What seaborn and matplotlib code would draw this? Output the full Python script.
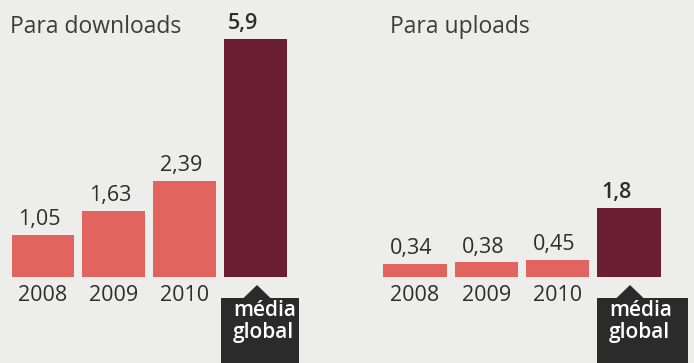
import matplotlib
matplotlib.use("Agg")
import matplotlib.pyplot as plt
import seaborn as sns
import pandas as pd
from matplotlib.patches import Rectangle, Polygon

# ---- data ----
categories = ["2008", "2009", "2010", "média global"]
downloads = [1.05, 1.63, 2.39, 5.9]
uploads = [0.34, 0.38, 0.45, 1.8]
download_labels = ["1,05", "1,63", "2,39", "5,9"]
upload_labels = ["0,34", "0,38", "0,45", "1,8"]
titles = ["Para downloads", "Para uploads"]

LIGHT = "#E1645E"
DARK = "#6B1D31"
BG = "#EDEDEB"
TXT = "#2E2E2E"
BOX = "#2B2B2B"

sns.set_theme(style="white")
plt.rcParams["font.family"] = ["Open Sans", "DejaVu Sans"]

W, H = 694, 363
fig = plt.figure(figsize=(W / 100, H / 100), dpi=100)
fig.patch.set_facecolor(BG)

panels = [
    dict(vals=downloads, labels=download_labels, title=titles[0],
         left=7.7, width=282.7, ymax=277 / 40.3, title_x=10,
         box=(221, 299), tri_x=257),
    dict(vals=uploads, labels=upload_labels, title=titles[1],
         left=379.4, width=285.2, ymax=277 / 38.3, title_x=390,
         box=(597, 688), tri_x=630),
]

base_px = 277  # baseline from top
for p in panels:
    ax = fig.add_axes([p["left"] / W, (H - base_px) / H, p["width"] / W, base_px / H])
    ax.set_facecolor("none")
    df = pd.DataFrame({"cat": categories, "val": p["vals"]})
    sns.barplot(data=df, x="cat", y="val", hue="cat", order=categories,
                palette=[LIGHT, LIGHT, LIGHT, DARK], width=0.89,
                legend=False, ax=ax, saturation=1, linewidth=0, edgecolor="none")
    ax.set_xlim(-0.5, 3.5)
    ax.set_ylim(0, p["ymax"])
    for s in ax.spines.values():
        s.set_visible(False)
    ax.set_yticks([])
    ax.set_xlabel("")
    ax.set_ylabel("")
    ax.set_xticks(range(4))
    ax.set_xticklabels(categories[:3] + [""], fontsize=15.5, color=TXT)
    ax.tick_params(axis="x", length=0, pad=6)
    for i, (v, lab) in enumerate(zip(p["vals"], p["labels"])):
        if i == 3:
            ax.annotate(lab, (i - 0.445, v), xytext=(3, 3.5), textcoords="offset points",
                        ha="left", va="bottom", fontsize=15.5, color=TXT,
                        fontweight="semibold")
        else:
            ax.annotate(lab, (i, v), xytext=(-2.5, 3.5), textcoords="offset points",
                        ha="center", va="bottom", fontsize=15.5, color=TXT)
    # title
    fig.text(p["title_x"] / W, 1 - 33 / H, p["title"], fontsize=16.5,
             color="#3C3C3C", ha="left", va="baseline")
    # black box label
    bx0, bx1 = p["box"]
    top = 298
    fig.patches.append(Rectangle((bx0 / W, 0), (bx1 - bx0) / W, (H - top) / H,
                                 transform=fig.transFigure, facecolor=BOX,
                                 edgecolor="none"))
    tx = p["tri_x"]
    fig.patches.append(Polygon([((tx - 14) / W, (H - top - 0.5) / H),
                                ((tx + 14) / W, (H - top - 0.5) / H),
                                (tx / W, (H - 285) / H)],
                               closed=True, transform=fig.transFigure,
                               facecolor=BOX, edgecolor="none"))
    fig.text((bx0 + 12) / W, 1 - 300 / H, "média\nglobal", fontsize=15,
             color="white", ha="left", va="top", linespacing=1.05,
             fontweight="semibold")

fig.savefig("out.png", dpi=100, facecolor=BG)
